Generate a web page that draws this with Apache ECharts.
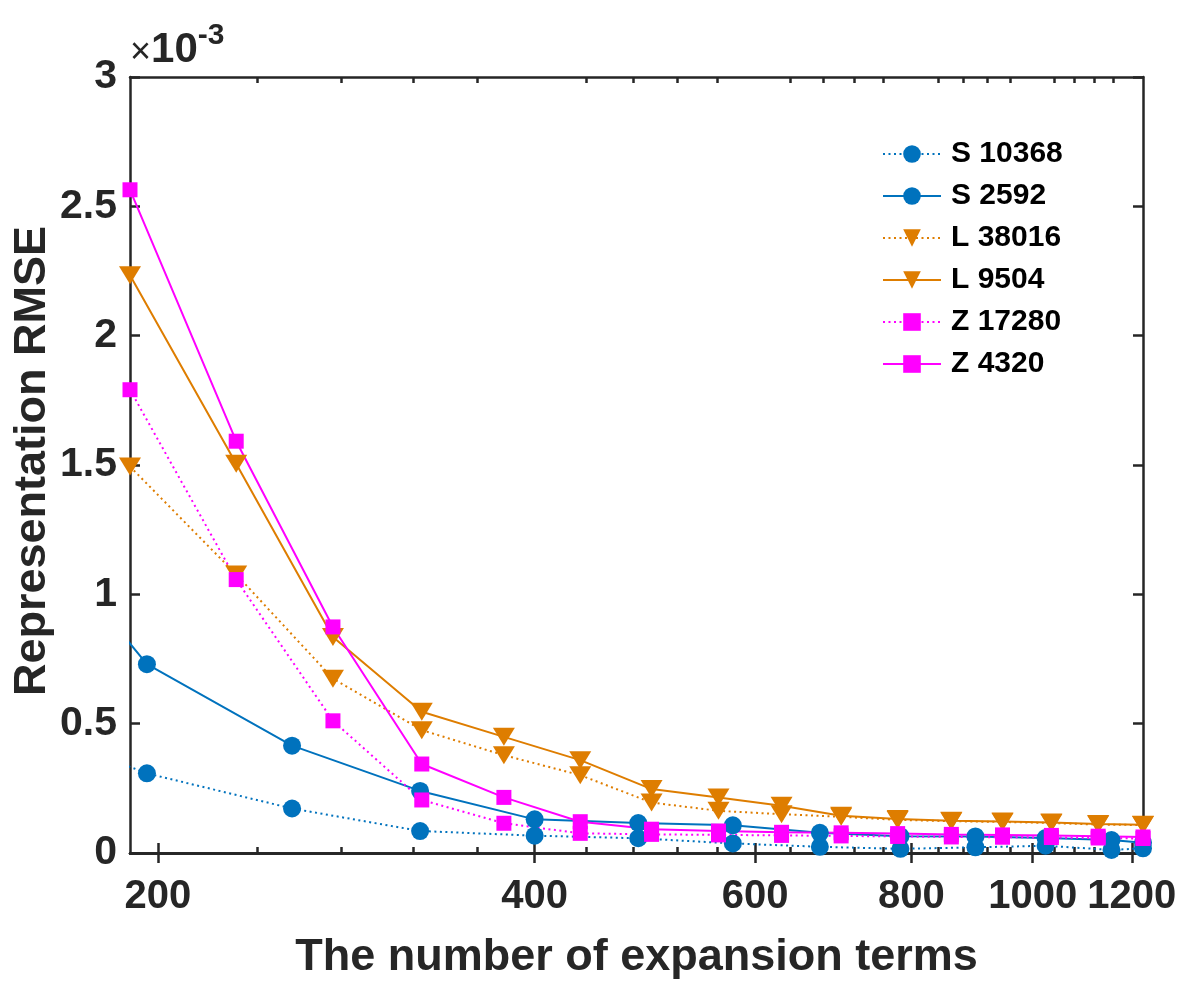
<!DOCTYPE html>
<html>
<head>
<meta charset="utf-8">
<title>Representation RMSE</title>
<script src="https://cdn.jsdelivr.net/npm/echarts@6.0.0/dist/echarts.min.js"></script>
<style>
  html, body { margin: 0; padding: 0; background: #fff; }
  #chart { width: 1198px; height: 989px; }
</style>
</head>
<body>
<div id="chart"></div>
<script>
  // number of expansion terms (x), S uses (n+1)^2, L and Z use (n+1)(2n+1)
  // first S entry lies left of the visible range, only its segment shows
  const S_TERMS = [144, 196, 256, 324, 400, 484, 576, 676, 784, 900, 1024, 1156, 1225]
  const LZ_TERMS = [190, 231, 276, 325, 378, 435, 496, 561, 630, 703, 780, 861, 946, 1035, 1128, 1225]

  // RMSE values, in units of 1e-3
  const S_10368 = [0.555, 0.308, 0.172, 0.085, 0.067, 0.057, 0.037, 0.024, 0.016, 0.022, 0.028, 0.012, 0.018]
  const S_2592 = [1.52, 0.73, 0.415, 0.24, 0.13, 0.116, 0.107, 0.078, 0.065, 0.064, 0.058, 0.05, 0.04]
  const L_38016 = [1.494, 1.077, 0.674, 0.475, 0.378, 0.301, 0.195, 0.163, 0.15, 0.14, 0.128, 0.123, 0.12, 0.116, 0.11, 0.108]
  const L_9504 = [2.234, 1.505, 0.835, 0.546, 0.449, 0.359, 0.247, 0.215, 0.183, 0.144, 0.131, 0.125, 0.122, 0.118, 0.112, 0.109]
  const Z_17280 = [1.791, 1.057, 0.511, 0.205, 0.115, 0.076, 0.072, 0.07, 0.068, 0.066, 0.064, 0.062, 0.061, 0.06, 0.058, 0.056]
  const Z_4320 = [2.564, 1.592, 0.874, 0.344, 0.215, 0.121, 0.092, 0.085, 0.08, 0.078, 0.075, 0.072, 0.07, 0.068, 0.065, 0.062]

  // tick labels
  const X_MAJOR = [200, 400, 600, 800, 1000, 1200]
  const X_MINOR = [240, 280, 320, 360, 440, 480, 520, 560, 640, 680, 720, 760,
    840, 880, 920, 960, 1040, 1080, 1120, 1160]
  const Y_TICKS = [0, 0.5, 1, 1.5, 2, 2.5, 3]

  const FRAME = '#262626'
  const FONT = "'Liberation Sans', Arial, Helvetica, sans-serif"
  const BLUE = '#0072BD'
  const ORANGE = '#DE7D00'
  const MAGENTA = '#FF00FF'
  const DOT = [2, 3.5]
  const TRI_DOWN = 'path://M0,0L20,0L10,17Z'

  const pairs = (xs, ys) => xs.map((x, i) => [x, ys[i]])

  const gridBox = { left: 130, right: 55, top: 77, bottom: 136 }

  const logAxis = (extra) => Object.assign({
    type: 'log',
    logBase: 10,
    min: 190,
    max: 1225,
    splitLine: { show: false },
    axisLine: { show: true, lineStyle: { color: FRAME, width: 2.5 } },
    axisTick: { show: true, inside: true, length: 10, lineStyle: { color: FRAME, width: 2.5 }, customValues: X_MAJOR },
    axisLabel: { show: false }
  }, extra)

  const lineSeries = (name, xs, ys, color, dotted, symbol, size) => ({
    name,
    type: 'line',
    data: pairs(xs, ys),
    symbol,
    symbolSize: size,
    showSymbol: true,
    clip: true,
    lineStyle: { color, width: 2, type: dotted ? DOT : 'solid', cap: 'butt' },
    itemStyle: { color, borderWidth: 0 },
    emphasis: { disabled: true },
    animation: false
  })

  const options = {
    backgroundColor: '#ffffff',
    animation: false,
    textStyle: { fontFamily: FONT },
    grid: [
      Object.assign({}, gridBox),
      Object.assign({}, gridBox)
    ],
    legend: {
      orient: 'vertical',
      left: 882,
      top: 139,
      padding: 0,
      itemWidth: 58,
      itemHeight: 22,
      itemGap: 12,
      selectedMode: false,
      textStyle: { fontFamily: FONT, fontSize: 30, fontWeight: 'bold', color: '#000', lineHeight: 30, padding: [0, 0, 0, 5] },
      data: ['S 10368', 'S 2592', 'L 38016', 'L 9504', 'Z 17280', 'Z 4320']
    },
    xAxis: [
      logAxis({
        gridIndex: 0,
        position: 'bottom',
        name: 'The number of expansion terms',
        nameLocation: 'middle',
        nameGap: 82,
        nameTextStyle: { fontFamily: FONT, fontSize: 45, fontWeight: 'bold', color: FRAME },
        axisLabel: {
          show: true,
          customValues: X_MAJOR,
          formatter: (v) => String(Math.round(v)),
          hideOverlap: false,
          showMaxLabel: true,
          margin: 24,
          fontFamily: FONT,
          fontSize: 40,
          fontWeight: 'bold',
          color: FRAME
        }
      }),
      logAxis({ gridIndex: 0, position: 'top' }),
      logAxis({
        gridIndex: 1,
        position: 'bottom',
        axisTick: { show: true, inside: true, length: 6, lineStyle: { color: FRAME, width: 2.5 }, customValues: X_MINOR }
      }),
      logAxis({
        gridIndex: 1,
        position: 'top',
        axisTick: { show: true, inside: true, length: 6, lineStyle: { color: FRAME, width: 2.5 }, customValues: X_MINOR }
      })
    ],
    yAxis: [
      {
        gridIndex: 0,
        type: 'value',
        position: 'left',
        min: 0,
        max: 3,
        interval: 0.5,
        splitLine: { show: false },
        axisLine: { show: true, lineStyle: { color: FRAME, width: 2.5 } },
        axisTick: { show: true, inside: true, length: 10, lineStyle: { color: FRAME, width: 2.5 }, customValues: Y_TICKS },
        axisLabel: {
          customValues: Y_TICKS,
          margin: 13,
          fontFamily: FONT,
          fontSize: 41,
          fontWeight: 'bold',
          color: FRAME
        },
        name: '{x|×}{b|10}{e|-3}',
        nameLocation: 'end',
        nameGap: 6,
        nameTextStyle: {
          align: 'left',
          verticalAlign: 'bottom',
          color: FRAME,
          rich: {
            x: { fontFamily: FONT, fontSize: 36, fontWeight: 'normal', color: FRAME, lineHeight: 46, verticalAlign: 'bottom' },
            b: { fontFamily: FONT, fontSize: 42, fontWeight: 'bold', color: FRAME, lineHeight: 50, verticalAlign: 'bottom' },
            e: { fontFamily: FONT, fontSize: 30, fontWeight: 'bold', color: FRAME, lineHeight: 30, verticalAlign: 'top' }
          }
        }
      },
      {
        gridIndex: 0,
        type: 'value',
        position: 'right',
        min: 0,
        max: 3,
        interval: 0.5,
        splitLine: { show: false },
        axisLine: { show: true, lineStyle: { color: FRAME, width: 2.5 } },
        axisTick: { show: true, inside: true, length: 10, lineStyle: { color: FRAME, width: 2.5 } },
        axisLabel: { show: false }
      },
      {
        gridIndex: 1,
        type: 'value',
        min: 0,
        max: 3,
        show: false
      }
    ],
    series: [
      lineSeries('S 10368', S_TERMS, S_10368, BLUE, true, 'circle', 18),
      lineSeries('S 2592', S_TERMS, S_2592, BLUE, false, 'circle', 18),
      lineSeries('L 38016', LZ_TERMS, L_38016, ORANGE, true, TRI_DOWN, [22, 18]),
      lineSeries('L 9504', LZ_TERMS, L_9504, ORANGE, false, TRI_DOWN, [22, 18]),
      lineSeries('Z 17280', LZ_TERMS, Z_17280, MAGENTA, true, 'rect', 15),
      lineSeries('Z 4320', LZ_TERMS, Z_4320, MAGENTA, false, 'rect', 15)
    ],
    graphic: [
      {
        // y axis title
        type: 'text',
        left: 10,
        top: 226,
        rotation: Math.PI / 2,
        style: {
          text: 'Representation RMSE',
          fontFamily: FONT,
          fontSize: 45,
          fontWeight: 'bold',
          fill: FRAME
        }
      }
    ]
  }

  const chart = echarts.init(document.getElementById('chart'), null, { renderer: 'canvas' })
  chart.setOption(options)
</script>
</body>
</html>
